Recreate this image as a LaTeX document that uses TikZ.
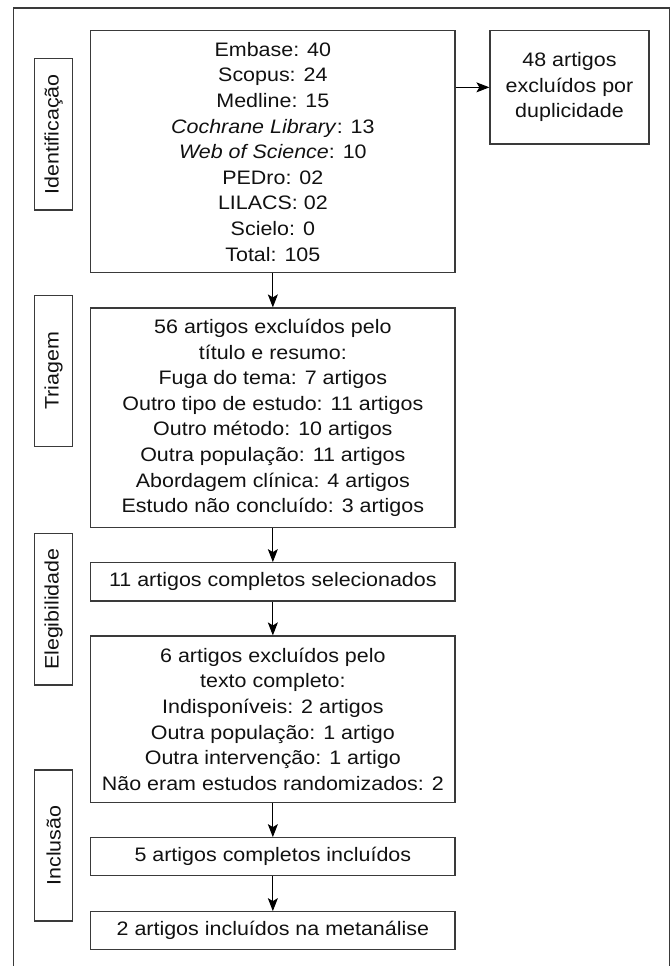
\documentclass[tikz,border=0pt]{standalone}
\usepackage{fontspec}
\setmainfont[FakeStretch=1.1]{Liberation Sans}
\usetikzlibrary{arrows.meta}
\definecolor{linec}{HTML}{3A3A3A}
\definecolor{textc}{HTML}{111111}
\tikzset{
  flowbox/.style={draw=linec, line width=1.2pt, text=textc, align=center, inner sep=0pt,
    font=\fontsize{19.5}{25.6}\selectfont},
  phasebox/.style={draw=linec, line width=1.2pt, text=textc, inner sep=0pt, rotate=90,
    minimum height=38pt, font=\fontsize{19.5}{25.6}\selectfont},
  flowarrow/.style={draw=black, line width=1pt, -{Stealth[length=13pt,width=10pt,inset=3pt]}}
}
\begin{document}
\begin{tikzpicture}[x=1pt,y=1pt]
\useasboundingbox (0,0) rectangle (671,-966);
% outer frame
\coordinate (fbl) at (13.3,-968);
\coordinate (ftl) at (13.3,-8);
\coordinate (ftr) at (669.5,-8);
\coordinate (fbr) at (669.5,-968);
\draw[linec, line width=1.2pt] (fbl) -- (ftl) -- (ftr) -- (fbr);

% main boxes
\node[flowbox, minimum width=364.3pt, minimum height=242pt] (b1) at (272.85,-151.7)
  {Embase: 40\\Scopus: 24\\Medline: 15\\\textit{Cochrane Library}: 13\\\textit{Web of Science}: 10\\PEDro: 02\\LILACS: 02\\Scielo: 0\\Total: 105};
\node[flowbox, minimum width=159pt, minimum height=113.3pt] (dup) at (569.5,-87.35)
  {48 artigos\\excluídos por\\duplicidade};
\node[flowbox, minimum width=364.3pt, minimum height=219.7pt] (b2) at (272.85,-417.85)
  {56 artigos excluídos pelo\\título e resumo:\\Fuga do tema: 7 artigos\\Outro tipo de estudo: 11 artigos\\Outro método: 10 artigos\\Outra população: 11 artigos\\Abordagem clínica: 4 artigos\\Estudo não concluído: 3 artigos};
\node[flowbox, minimum width=364.3pt, minimum height=38.3pt] (b3) at (272.85,-581.85)
  {11 artigos completos selecionados};
\node[flowbox, minimum width=364.3pt, minimum height=166.3pt] (b4) at (272.85,-719.15)
  {6 artigos excluídos pelo\\texto completo:\\Indisponíveis: 2 artigos\\Outra população: 1 artigo\\Outra intervenção: 1 artigo\\Não eram estudos randomizados: 2};
\node[flowbox, minimum width=364.3pt, minimum height=38pt] (b5) at (272.85,-856.7)
  {5 artigos completos incluídos};
\node[flowbox, minimum width=364.3pt, minimum height=37.6pt] (b6) at (272.85,-930.5)
  {2 artigos incluídos na metanálise};

% phase labels
\node[phasebox, minimum width=151.3pt] (l1) at (53.7,-134.35) {Identificação};
\node[phasebox, minimum width=151.4pt] (l2) at (53.7,-371) {Triagem};
\node[phasebox, minimum width=151.7pt] (l3) at (53.7,-609.15) {Elegibilidade};
\node[phasebox, minimum width=151pt] (l4) at (53.7,-845.5) {Inclusão};

% arrows
\draw[flowarrow] (dup.west -| b1.east) -- (dup.west);
\draw[flowarrow] (b1.south) -- (b2.north);
\draw[flowarrow] (b2.south) -- (b3.north);
\draw[flowarrow] (b3.south) -- (b4.north);
\draw[flowarrow] (b4.south) -- (b5.north);
\draw[flowarrow] (b5.south) -- (b6.north);
\end{tikzpicture}
\end{document}
